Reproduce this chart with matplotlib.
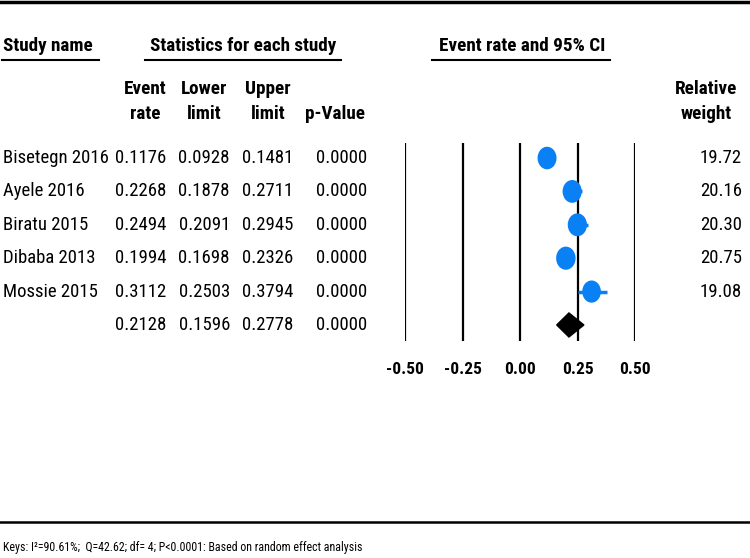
import matplotlib
matplotlib.use("Agg")
import matplotlib.pyplot as plt
from matplotlib import transforms
from matplotlib.patches import Ellipse, Polygon
from matplotlib.lines import Line2D

plt.rcParams['font.family'] = ['Roboto Condensed', 'Liberation Sans', 'DejaVu Sans']

studies = ["Bisetegn 2016", "Ayele 2016", "Biratu 2015", "Dibaba 2013", "Mossie 2015"]
event_rate = [0.1176, 0.2268, 0.2494, 0.1994, 0.3112]
lower = [0.0928, 0.1878, 0.2091, 0.1698, 0.2503]
upper = [0.1481, 0.2711, 0.2945, 0.2326, 0.3794]
p_value = [0.0000, 0.0000, 0.0000, 0.0000, 0.0000]
weights = [19.72, 20.16, 20.30, 20.75, 19.08]
summary = {"rate": 0.2128, "lower": 0.1596, "upper": 0.2778, "p": 0.0000}
xticks = [-0.50, -0.25, 0.00, 0.25, 0.50]
keys_text = "Keys: I\u00b2=90.61%;  Q=42.62; df= 4; P<0.0001: Based on random effect analysis"

W, H = 750, 558
fig = plt.figure(figsize=(W / 100, H / 100), dpi=100)

def fx(x):
    return x / W

def fy(y):
    return 1 - y / H

# forest axes
ax = fig.add_axes([fx(405), fy(341), (635 - 405) / W, (341 - 143) / H])
ax.set_xlim(-0.5, 0.5)
ax.set_ylim(5.48, -0.45)
for s in ax.spines.values():
    s.set_visible(False)
ax.set_yticks([])
ax.set_xticks(xticks)
ax.set_xticklabels([f"{t:.2f}" for t in xticks], fontweight='bold', fontsize=12.5)
ax.tick_params(axis='x', length=0, pad=15)
ax.patch.set_alpha(0)
for t in xticks:
    ax.axvline(t, color='black', lw=1.6, zorder=1)

blue = '#0a80f5'
n = len(studies)
for i in range(n):
    ax.plot([lower[i], upper[i]], [i, i], color=blue, lw=2.5, zorder=2, solid_capstyle='butt')
    wscale = (weights[i] / 20.0) ** 0.5
    e = Ellipse((event_rate[i], i), width=0.083 * wscale, height=0.68 * wscale,
                facecolor=blue, edgecolor='none', zorder=3)
    ax.add_patch(e)

hd = 0.36
diamond = Polygon([(summary["lower"], n), (summary["rate"], n - hd),
                   (summary["upper"], n), (summary["rate"], n + hd)],
                  closed=True, facecolor='black', edgecolor='black', zorder=3)
ax.add_patch(diamond)

# table text
tr = transforms.blended_transform_factory(fig.transFigure, ax.transData)
fs = 13.5
for i in range(n):
    fig.text(fx(3), i, studies[i], transform=tr, ha='left', va='center', fontsize=fs)
    fig.text(fx(166), i, f"{event_rate[i]:.4f}", transform=tr, ha='right', va='center', fontsize=fs)
    fig.text(fx(230), i, f"{lower[i]:.4f}", transform=tr, ha='right', va='center', fontsize=fs)
    fig.text(fx(293), i, f"{upper[i]:.4f}", transform=tr, ha='right', va='center', fontsize=fs)
    fig.text(fx(367), i, f"{p_value[i]:.4f}", transform=tr, ha='right', va='center', fontsize=fs)
    fig.text(fx(742), i, f"{weights[i]:.2f}", transform=tr, ha='right', va='center', fontsize=fs)
fig.text(fx(166), n, f"{summary['rate']:.4f}", transform=tr, ha='right', va='center', fontsize=fs)
fig.text(fx(230), n, f"{summary['lower']:.4f}", transform=tr, ha='right', va='center', fontsize=fs)
fig.text(fx(293), n, f"{summary['upper']:.4f}", transform=tr, ha='right', va='center', fontsize=fs)
fig.text(fx(367), n, f"{summary['p']:.4f}", transform=tr, ha='right', va='center', fontsize=fs)

# headers
hfs = 13.8
fig.text(fx(3), fy(46), "Study name", ha='left', va='center', fontsize=hfs, fontweight='bold')
fig.text(fx(243), fy(46), "Statistics for each study", ha='center', va='center', fontsize=hfs, fontweight='bold')
fig.text(fx(522), fy(46), "Event rate and 95% CI", ha='center', va='center', fontsize=hfs, fontweight='bold')
for x0, x1 in [(2, 99), (145, 341), (432, 610)]:
    fig.add_artist(Line2D([fx(x0), fx(x1)], [fy(60), fy(60)], color='black', lw=1.5,
                          transform=fig.transFigure))

sub = [(145, "Event", "rate"), (204.5, "Lower", "limit"), (268, "Upper", "limit"),
       (334.5, "", "p-Value"), (706.5, "Relative", "weight")]
for x, l1, l2 in sub:
    if l1:
        fig.text(fx(x), fy(89), l1, ha='center', va='center', fontsize=hfs, fontweight='bold')
    fig.text(fx(x), fy(114), l2, ha='center', va='center', fontsize=hfs, fontweight='bold')

# frame lines
fig.add_artist(Line2D([0, 1], [fy(2), fy(2)], color='black', lw=2.5, transform=fig.transFigure))
fig.add_artist(Line2D([0, 1], [fy(522), fy(522)], color='black', lw=1.8, transform=fig.transFigure))
fig.text(fx(3), fy(547), keys_text, ha='left', va='center', fontsize=8.6)

fig.savefig("out.png", dpi=100)
